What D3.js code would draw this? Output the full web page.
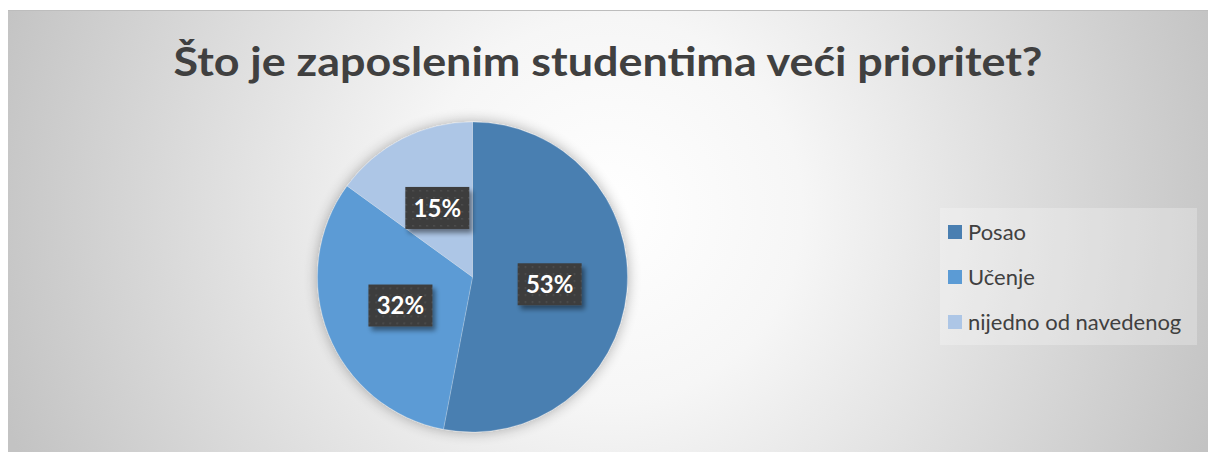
<!DOCTYPE html>
<html>
<head>
<meta charset="utf-8">
<script src="https://cdn.jsdelivr.net/npm/d3@7"></script>
<style>
  html, body { margin: 0; padding: 0; background: #fff; }
  svg { display: block; }
</style>
</head>
<body>
<script>
// data
const categories = ["Posao", "Učenje", "nijedno od navedenog"];
const values = [53, 32, 15];
const colors = ["#4a7fb1", "#5b9bd5", "#adc6e6"];
const title = "Što je zaposlenim studentima veći prioritet?";

const width = 1208, height = 452;

const svg = d3.select("body").append("svg")
  .attr("width", width)
  .attr("height", height);

const defs = svg.append("defs");

// chart area background
const bg = defs.append("radialGradient")
  .attr("id", "bg")
  .attr("gradientUnits", "userSpaceOnUse")
  .attr("cx", 610).attr("cy", 210).attr("r", 640);
bg.append("stop").attr("offset", "0%").attr("stop-color", "#ffffff");
bg.append("stop").attr("offset", "30%").attr("stop-color", "#f6f6f6");
bg.append("stop").attr("offset", "100%").attr("stop-color", "#c3c3c3");

// soft glow round the pie
const glow = defs.append("filter").attr("id", "glow")
  .attr("x", "-20%").attr("y", "-20%").attr("width", "140%").attr("height", "140%");
glow.append("feGaussianBlur").attr("in", "SourceAlpha").attr("stdDeviation", 7).attr("result", "b");
glow.append("feComponentTransfer").attr("in", "b").attr("result", "s")
  .append("feFuncA").attr("type", "linear").attr("slope", 0.32);
const gm = glow.append("feMerge");
gm.append("feMergeNode").attr("in", "s");
gm.append("feMergeNode").attr("in", "SourceGraphic");

// label shadow
const lshadow = defs.append("filter").attr("id", "lshadow")
  .attr("x", "-30%").attr("y", "-30%").attr("width", "170%").attr("height", "180%");
lshadow.append("feGaussianBlur").attr("in", "SourceAlpha").attr("stdDeviation", 2.5).attr("result", "b");
lshadow.append("feOffset").attr("in", "b").attr("dx", 3).attr("dy", 4).attr("result", "o");
lshadow.append("feComponentTransfer").attr("in", "o").attr("result", "s")
  .append("feFuncA").attr("type", "linear").attr("slope", 0.45);
const lm = lshadow.append("feMerge");
lm.append("feMergeNode").attr("in", "s");
lm.append("feMergeNode").attr("in", "SourceGraphic");

// dotted dark fill for labels
const pat = defs.append("pattern").attr("id", "dots")
  .attr("patternUnits", "userSpaceOnUse").attr("width", 7).attr("height", 7);
pat.append("rect").attr("width", 7).attr("height", 7).attr("fill", "#3d3d3d");
pat.append("rect").attr("x", 3).attr("y", 3).attr("width", 1.5).attr("height", 1.5).attr("fill", "#555555");

svg.append("rect")
  .attr("x", 8).attr("y", 10)
  .attr("width", width - 8).attr("height", height - 10)
  .attr("fill", "url(#bg)");
svg.append("line")
  .attr("x1", 8).attr("x2", width).attr("y1", 10.5).attr("y2", 10.5)
  .attr("stroke", "#bdbdbd").attr("stroke-width", 1);

// title
svg.append("text")
  .attr("x", 608).attr("y", 76)
  .attr("text-anchor", "middle")
  .attr("font-family", "Lato, 'Open Sans', sans-serif")
  .attr("font-weight", "bold")
  .attr("font-size", 41)
  .attr("fill", "#404040")
  .attr("textLength", 869)
  .attr("lengthAdjust", "spacingAndGlyphs")
  .text(title);

// pie
const cx = 472.5, cy = 277, radius = 155;
const pie = d3.pie().sort(null).value(d => d.value);
const arcs = pie(categories.map((c, i) => ({ name: c, value: values[i], color: colors[i] })));
const arc = d3.arc().innerRadius(0).outerRadius(radius);
const labelArc = d3.arc().innerRadius(radius * 0.5).outerRadius(radius * 0.5);
const total = d3.sum(values);

const g = svg.append("g").attr("transform", `translate(${cx},${cy})`);

g.append("g")
  .attr("filter", "url(#glow)")
  .selectAll("path")
  .data(arcs)
  .join("path")
  .attr("d", arc)
  .attr("fill", d => d.data.color)
  .attr("stroke", "#ffffff")
  .attr("stroke-opacity", 0.35)
  .attr("stroke-width", 0.6);

const lab = g.selectAll("g.lab")
  .data(arcs)
  .join("g")
  .attr("class", "lab")
  .attr("transform", d => `translate(${labelArc.centroid(d)})`);

lab.append("rect")
  .attr("x", -32).attr("y", -21)
  .attr("width", 64).attr("height", 42)
  .attr("fill", "url(#dots)")
  .attr("filter", "url(#lshadow)");

lab.append("text")
  .attr("text-anchor", "middle")
  .attr("dy", "0.36em")
  .attr("font-family", "Lato, 'Open Sans', sans-serif")
  .attr("font-weight", "bold")
  .attr("font-size", 24)
  .attr("fill", "#ffffff")
  .text(d => d3.format(".0%")(d.data.value / total));

// legend
const legend = svg.append("g");
legend.append("rect")
  .attr("x", 940).attr("y", 208)
  .attr("width", 257).attr("height", 137)
  .attr("fill", "#ffffff").attr("fill-opacity", 0.25);

const item = legend.selectAll("g.item")
  .data(categories)
  .join("g")
  .attr("class", "item")
  .attr("transform", (d, i) => `translate(948,${232 + i * 45})`);

item.append("rect")
  .attr("x", 0).attr("y", -7)
  .attr("width", 14).attr("height", 14)
  .attr("fill", (d, i) => colors[i]);

item.append("text")
  .attr("x", 20).attr("dy", "0.36em")
  .attr("font-family", "Lato, 'Open Sans', sans-serif")
  .attr("font-size", 22)
  .attr("fill", "#404040")
  .text(d => d);
</script>
</body>
</html>
